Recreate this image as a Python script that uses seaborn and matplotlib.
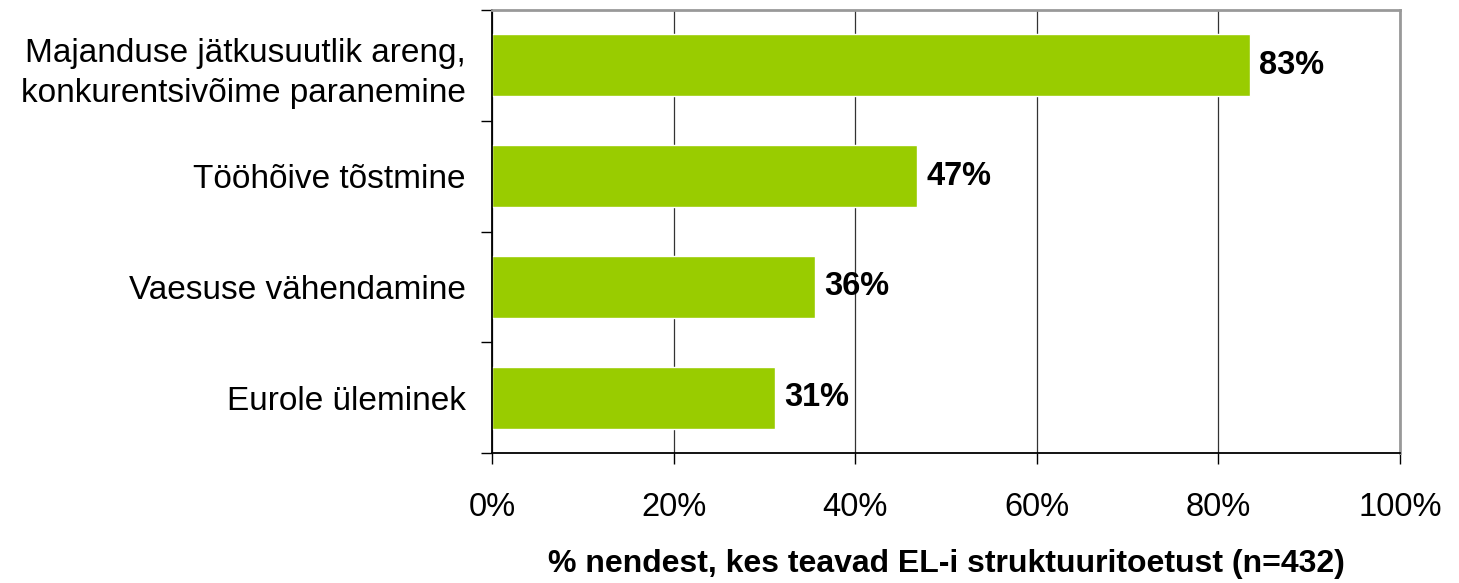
import matplotlib
matplotlib.use("Agg")
import matplotlib.pyplot as plt
import seaborn as sns
import numpy as np
import pandas as pd

# Data
categories = [
    "Majanduse jätkusuutlik areng,\nkonkurentsivõime paranemine",
    "Tööhõive tõstmine",
    "Vaesuse vähendamine",
    "Eurole üleminek",
]
values = [83.5, 46.8, 35.6, 31.2]
labels = ["83%", "47%", "36%", "31%"]
xticks = [0, 20, 40, 60, 80, 100]

df = pd.DataFrame({"category": categories, "value": values})

sns.set_theme(style="white")
plt.rcParams["font.family"] = ["Liberation Sans", "DejaVu Sans"]
plt.rcParams["text.color"] = "black"
plt.rcParams["axes.labelcolor"] = "black"
plt.rcParams["xtick.color"] = "black"
plt.rcParams["ytick.color"] = "black"

fig = plt.figure(figsize=(14.59, 5.83), dpi=100)
ax = fig.add_axes([492 / 1459, 1 - 453 / 583, 908 / 1459, 443 / 583])

sns.barplot(data=df, x="value", y="category", orient="h", color="#99CC00",
            saturation=1, width=0.56, ax=ax, zorder=2)

fs = 24
ax.set_xlim(0, 100)
ax.set_ylim(3.5, -0.5)
ax.set_xticks(xticks)
ax.set_xticklabels([f"{t}%" for t in xticks], fontsize=fs - 0.5)
ax.tick_params(axis="x", bottom=True, pad=20, length=8, width=1,
               color="black", direction="out")

# y ticks: labels at categories, tick marks between categories
ax.set_yticks(range(len(categories)))
ax.set_yticklabels(categories, fontsize=fs, linespacing=1.4)
ax.set_yticks(np.arange(-0.5, len(categories), 1), minor=True)
ax.tick_params(axis="y", which="major", left=True, length=0, pad=19)
ax.tick_params(axis="y", which="minor", left=True, length=8, width=1,
               color="black", direction="out")

ax.xaxis.grid(True, color="#333333", linewidth=0.9, zorder=0)
ax.set_axisbelow(True)

for side in ["left", "bottom"]:
    ax.spines[side].set_color("black")
    ax.spines[side].set_linewidth(1.3)
for side in ["top", "right"]:
    ax.spines[side].set_color("#999999")
    ax.spines[side].set_linewidth(2)

for i, (v, lab) in enumerate(zip(values, labels)):
    ax.text(v + 1, i, lab, va="center", ha="left", fontsize=fs - 0.5,
            fontweight="bold")

ax.set_xlabel("% nendest, kes teavad EL-i struktuuritoetust (n=432)",
              fontsize=23, fontweight="bold", labelpad=19)
ax.set_ylabel("")

fig.savefig("out.png", dpi=100)
